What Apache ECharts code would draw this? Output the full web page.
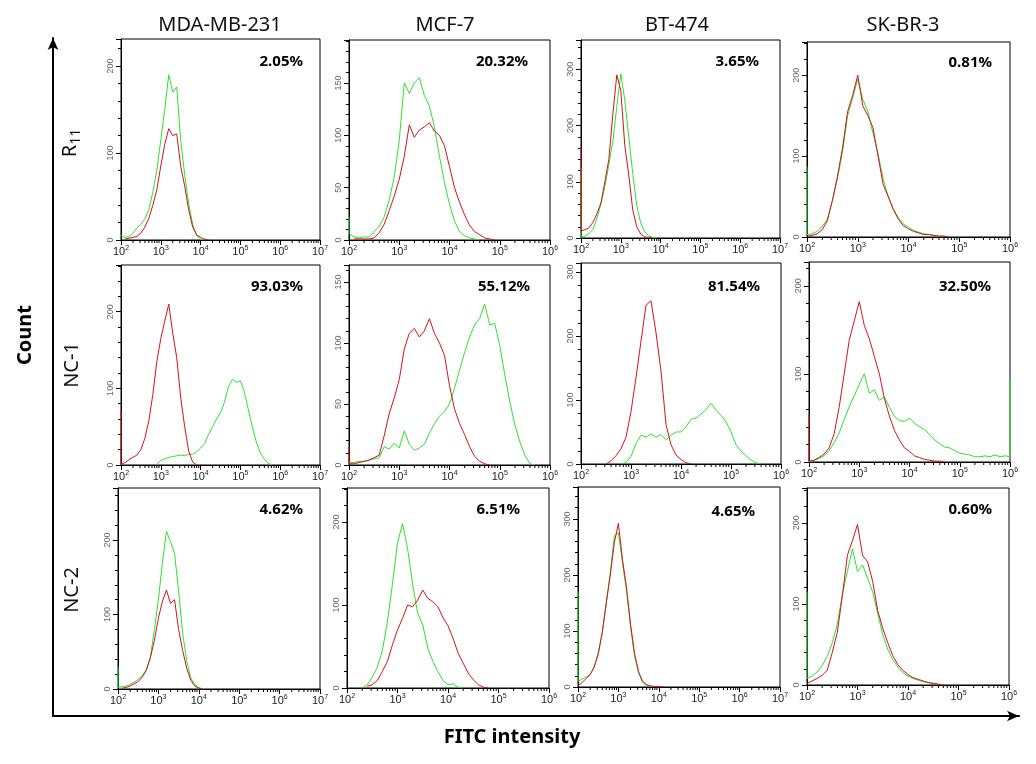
<!DOCTYPE html>
<html><head><meta charset="utf-8">
<script src="https://cdn.jsdelivr.net/npm/echarts@6/dist/echarts.min.js"></script>
<style>html,body{margin:0;padding:0;background:#fff}#c{width:1036px;height:764px}</style>
</head><body><div id="c"></div>
<script>
// ---------- DATA ----------
const cellLines = ['MDA-MB-231', 'MCF-7', 'BT-474', 'SK-BR-3'];
const treatments = ['R{sub|11}', 'NC-1', 'NC-2'];
const percents = ['2.05%', '20.32%', '3.65%', '0.81%',
                  '93.03%', '55.12%', '81.54%', '32.50%',
                  '4.62%', '6.51%', '4.65%', '0.60%'];
const decadeMax = [7, 6, 7, 6, 7, 6, 6, 6, 7, 6, 7, 6];      // x axis upper exponent (10^n)
const countMax = [231, 191, 352, 241, 261, 164, 314, 227, 270, 241, 357, 243];
const countStep = [100, 50, 100, 100, 100, 50, 100, 100, 100, 100, 100, 100];
const binStep = 0.1;   // histogram bins in log10 units, starting at 10^2

// counts per bin (bin i at log10 = 2 + i*0.1); null = no events drawn
const mdaR11Red   = [null,1,2,3,4,8,15,25,40,58,85,110,128,120,122,85,62,35,15,6,3,1,0];
const mdaR11Green = [5,3,4,8,14,18,24,35,55,80,115,150,190,170,176,115,75,42,18,5,1,0];
const mcfR11Red   = [null,1,1,1,1,2,7,15,28,42,58,80,110,98,105,108,112,104,100,90,70,50,36,24,14,8,5,2,1,0];
const mcfR11Green = [6,3,2,3,3,8,13,22,38,60,95,150,140,150,155,138,128,108,80,55,34,18,8,4,2,1,0];
const btR11Red    = [12,15,18,28,43,62,100,140,220,290,262,165,112,50,20,7,2,1,0];
const btR11Green  = [3,3,8,15,35,60,92,130,172,234,292,245,180,115,58,27,11,4,1,0];
const skR11Red    = [1,2,4,9,20,45,75,110,155,175,200,162,150,135,100,65,50,34,22,14,10,7,5,3,3,2,1,1,0];
const skR11Green  = [3,4,7,13,22,45,72,105,150,172,195,170,155,128,103,72,50,35,24,16,12,8,6,4,3,2,1,1,0];

const mdaNC1Red   = [1,3,7,10,13,20,35,58,92,135,165,188,210,172,140,88,50,18,4,0];
const mdaNC1Green = [null,null,null,null,null,null,null,null,null,1,6,8,10,11,12,13,12,14,14,17,22,28,40,50,60,68,82,102,112,108,110,95,72,50,30,16,8,2,0];
const mcfNC1Red   = [1,1,2,3,4,6,8,24,42,55,70,95,108,112,105,110,120,108,100,90,65,46,34,25,15,7,3,1,0];
const mcfNC1Green = [2,2,3,3,4,5,6,15,13,18,14,28,17,12,14,17,26,34,40,44,50,63,78,92,105,115,120,132,115,116,98,74,52,33,19,8,1,0];
const btNC1Red    = [null,null,null,null,null,0,5,13,24,42,82,135,192,248,255,205,145,62,30,14,7,2,0];
const btNC1Green  = [null,null,null,null,null,null,null,null,0,3,12,32,45,42,47,42,46,38,45,50,50,58,70,72,78,85,95,84,76,66,50,30,20,13,6,2,0];
const skNC1Red    = [1,2,5,9,16,32,62,100,138,160,182,155,140,120,100,72,52,36,25,16,12,7,5,3,2,1,1,0];
const skNC1Green  = [0,2,4,7,13,22,33,48,63,75,88,100,78,82,70,74,62,52,47,46,50,44,40,37,31,25,21,17,16,13,10,9,8,6,6,7,6,8,6,7,6];

const mdaNC2Red   = [null,1,2,4,7,10,16,25,42,65,95,118,133,115,120,80,52,28,12,4,1,0];
const mdaNC2Green = [2,3,4,6,9,13,18,26,42,80,120,170,212,198,182,132,75,38,15,6,2,0];
const mcfNC2Red   = [null,null,null,null,2,4,9,20,32,52,70,84,100,98,106,118,108,104,98,85,75,60,42,30,18,10,4,1,0];
const mcfNC2Green = [null,null,null,0,4,13,25,45,80,125,175,198,168,125,90,76,48,32,20,9,4,5,1,0];
const btNC2Red    = [2,8,15,22,36,58,98,150,200,258,292,228,178,112,60,27,10,4,2,1,1,0];
const btNC2Green  = [10,14,18,22,35,62,95,150,205,270,275,222,173,108,55,25,8,3,1,1,0];
const skNC2Red    = [2,5,8,12,18,40,65,110,160,178,198,160,152,128,92,70,52,36,25,18,13,9,7,5,3,2,1,0];
const skNC2Green  = [8,11,16,24,35,52,75,112,140,168,140,148,132,115,88,62,44,31,22,15,11,8,6,4,3,2,1,0];

// pile-up of events in the first / last channel (vertical line at the axis edge)
const leftEdgeRed   = [0, 0, 160, 0,  70, 15, 0, 54,  0, 0, 0, 0];
const leftEdgeGreen = [0, 22, 125, 87, 0, 0, 0, 0,   30, 0, 170, 115];
const rightEdgeGreen = [0, 0, 0, 0, 0, 0, 0, 95, 0, 0, 0, 0];

const redCurves = [mdaR11Red, mcfR11Red, btR11Red, skR11Red, mdaNC1Red, mcfNC1Red, btNC1Red, skNC1Red, mdaNC2Red, mcfNC2Red, btNC2Red, skNC2Red];
const greenCurves = [mdaR11Green, mcfR11Green, btR11Green, skR11Green, mdaNC1Green, mcfNC1Green, btNC1Green, skNC1Green, mdaNC2Green, mcfNC2Green, btNC2Green, skNC2Green];

// ---------- LAYOUT ----------
const panelBoxes = [
  [121, 39, 199, 201], [349, 40, 201, 200], [581, 40, 199, 198], [807, 42, 203, 195],
  [121, 265, 199, 200], [349, 265, 201, 200], [581, 263, 200, 201], [809, 262, 201, 200],
  [118, 488, 202, 201], [347, 488, 202, 200], [578, 487, 202, 200], [807, 488, 202, 197]];
const percentPos = [[303, 62], [528, 62], [759, 62], [992, 63], [303, 287], [530, 287], [760, 287], [991, 287], [303, 510], [520, 510], [755, 512], [992, 510]];
const titlePos = [[220, 25], [445, 25], [677, 25], [903, 25]];
const rowLabelPos = [[70, 143], [72, 365], [72, 590]];
const RED = '#d3121c', GREEN = '#2fe02f';

function buildLine(vals, lEdge, rEdge, xmax) {
  const pts = [];
  if (lEdge) pts.push([2, lEdge]);
  vals.forEach((v, i) => pts.push([+(2 + i * binStep).toFixed(2), v]));
  if (rEdge) pts.push([xmax, rEdge]);
  return pts;
}

const grids = [], xAxes = [], yAxes = [], series = [], graphics = [];
panelBoxes.forEach((b, i) => {
  grids.push({ left: b[0], top: b[1], width: b[2], height: b[3], show: true, borderColor: '#000', borderWidth: 1, containLabel: false });
  xAxes.push({
    gridIndex: i, type: 'value', min: 2, max: decadeMax[i], interval: 1,
    axisLine: { show: true, lineStyle: { color: '#000', width: 1 } },
    axisTick: { show: true, length: 5, lineStyle: { color: '#000' } },
    splitLine: { show: false },
    axisLabel: {
      margin: 5, color: '#222', fontSize: 11, fontFamily: 'Liberation Sans',
      formatter: v => '10{s|' + Math.round(v) + '}',
      rich: { s: { fontSize: 7, fontFamily: 'Liberation Sans', color: '#222', padding: [0, 0, 7, 0] } }
    }
  });
  yAxes.push({
    gridIndex: i, type: 'value', min: 0, max: countMax[i], interval: countStep[i],
    axisLine: { show: true, lineStyle: { color: '#000', width: 1 } },
    axisTick: { show: true, length: 5, lineStyle: { color: '#000' } },
    minorTick: { show: true, splitNumber: 5, length: 3, lineStyle: { color: '#000' } },
    splitLine: { show: false },
    axisLabel: { rotate: 90, margin: 6, color: '#666', fontSize: 9, fontFamily: 'Liberation Sans', showMaxLabel: false }
  });
  // minor decade ticks on the log axis (2..9 x 10^n)
  const minor = [];
  for (let n = 2; n < decadeMax[i]; n++) for (let k = 2; k <= 9; k++) minor.push([n + Math.log10(k)]);
  series.push({
    type: 'custom', xAxisIndex: i, yAxisIndex: i, clip: false, silent: true, data: minor,
    renderItem: (params, api) => {
      const p = api.coord([api.value(0), 0]);
      return { type: 'line', shape: { x1: p[0], y1: p[1], x2: p[0], y2: p[1] + 3 }, style: { stroke: '#000', lineWidth: 1 } };
    }
  });
  series.push({
    type: 'line', xAxisIndex: i, yAxisIndex: i, showSymbol: false, symbol: 'none',
    data: buildLine(greenCurves[i], leftEdgeGreen[i], rightEdgeGreen[i], decadeMax[i]),
    lineStyle: { color: GREEN, width: 1 }, itemStyle: { color: GREEN }, z: 3
  });
  series.push({
    type: 'line', xAxisIndex: i, yAxisIndex: i, showSymbol: false, symbol: 'none',
    data: buildLine(redCurves[i], leftEdgeRed[i], 0, decadeMax[i]),
    lineStyle: { color: RED, width: 1 }, itemStyle: { color: RED }, z: 4
  });
  graphics.push({
    type: 'text', x: percentPos[i][0], y: percentPos[i][1], z: 10,
    style: { text: percents[i], fill: '#000', fontSize: 15, fontWeight: 'bold', fontFamily: 'Noto Sans', align: 'right', verticalAlign: 'middle' }
  });
});

// big outer axes with arrows
const bi = panelBoxes.length;
grids.push({ left: 53, top: 38, width: 966, height: 678, show: false });
xAxes.push({ gridIndex: bi, type: 'value', min: 0, max: 1, axisLine: { show: true, symbol: ['none', 'arrow'], symbolSize: [8, 12], lineStyle: { color: '#000', width: 2 } }, axisTick: { show: false }, axisLabel: { show: false }, splitLine: { show: false } });
yAxes.push({ gridIndex: bi, type: 'value', min: 0, max: 1, axisLine: { show: true, symbol: ['none', 'arrow'], symbolSize: [8, 12], lineStyle: { color: '#000', width: 2 } }, axisTick: { show: false }, axisLabel: { show: false }, splitLine: { show: false } });

cellLines.forEach((t, j) => graphics.push({
  type: 'text', x: titlePos[j][0], y: titlePos[j][1],
  style: { text: t, fill: '#111', fontSize: 20, fontFamily: 'Noto Sans', align: 'center', verticalAlign: 'middle' }
}));
treatments.forEach((t, r) => graphics.push({
  type: 'text', x: rowLabelPos[r][0], y: rowLabelPos[r][1], rotation: Math.PI / 2,
  style: { text: t, fill: '#111', fontSize: 20, fontFamily: 'Noto Sans', align: 'center', verticalAlign: 'middle',
    rich: { sub: { fontSize: 14, fontFamily: 'Noto Sans', fill: '#111', padding: [12, 0, 0, 0] } } }
}));
graphics.push({ type: 'text', x: 25, y: 335, rotation: Math.PI / 2,
  style: { text: 'Count', fill: '#000', fontSize: 20, fontWeight: 'bold', fontFamily: 'Noto Sans', align: 'center', verticalAlign: 'middle' } });
graphics.push({ type: 'text', x: 512, y: 737,
  style: { text: 'FITC intensity', fill: '#000', fontSize: 20, fontWeight: 'bold', fontFamily: 'Noto Sans', align: 'center', verticalAlign: 'middle' } });

const chart = echarts.init(document.getElementById('c'), null, { renderer: 'canvas' });
chart.setOption({
  animation: false, backgroundColor: '#fff',
  grid: grids, xAxis: xAxes, yAxis: yAxes, series: series, graphic: graphics
});
</script></body></html>
